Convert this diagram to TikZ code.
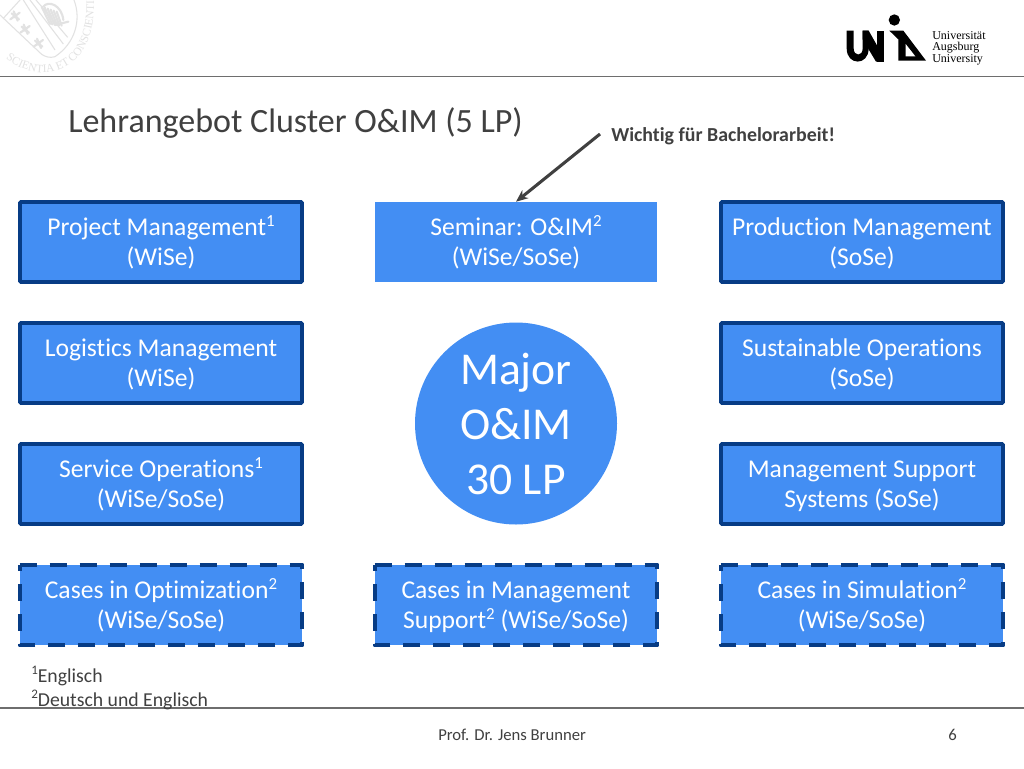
\documentclass[tikz,border=0pt]{standalone}
\usepackage{fontspec}
\setmainfont[RawFeature={-liga;-clig}]{Carlito}
\newfontfamily\logofont{Liberation Serif}
\usetikzlibrary{arrows.meta,decorations.text}
\definecolor{boxblue}{HTML}{438EF3}
\definecolor{boxline}{HTML}{073C85}
\definecolor{txt}{HTML}{404040}
\definecolor{rulec}{HTML}{6E6E6E}
\definecolor{seal}{HTML}{E2E2E2}
\newcommand{\tl}{\rule{0pt}{18.2pt}}
\newcommand{\bl}{\rule[-5.5pt]{0pt}{5.5pt}}
\newcommand{\supr}[1]{\raisebox{0.36em}{\fontsize{0.66em}{0.7em}\selectfont #1}}
\tikzset{
  x=0.75pt,y=-0.75pt,
  basebox/.style={fill=boxblue,text=white,align=center,font=\fontsize{19.2pt}{22.5pt}\selectfont,inner sep=0pt,minimum width=211.5pt,minimum height=60pt},
  solidbox/.style={basebox,draw=boxline,line width=2.8pt,rounded corners=0.8pt},
  dashbox/.style={basebox},
  dashline/.style={draw=boxline,line width=3.3pt,dash pattern=on 12.8pt off 9.7pt,line join=round},
  plainbox/.style={basebox},
  rulel/.style={draw=rulec,line width=1pt},
  lbl/.style={text=txt,inner sep=0pt,anchor=base west},
  sealline/.style={draw=seal,line width=0.8pt},
  sealhatch/.style={draw=seal,line width=1.6pt,line cap=round},
}
\begin{document}
\begin{tikzpicture}
\useasboundingbox (0,0) rectangle (1024,768);
\fill[white] (0,0) rectangle (1024,768);
% seal (coordinates in thirds of a pixel)
\begin{scope}[x=0.25pt,y=-0.25pt]
\clip (0,0) rectangle (300,228);
\draw[sealline] (222,0) .. controls (245,60) and (225,130) .. (165,170) .. controls (150,175) and (135,170) .. (125,163) -- (0,45);
\draw[sealline] (70,0) -- (165,150);
\draw[sealline] (90,0) -- (190,132);
\draw[sealline] (108,0) -- (203,112);
\draw[sealline] (10,55) -- (60,0);
\foreach \cx/\cy in {45/48,75/88,115/130}{
  \draw[sealhatch] (\cx-14,\cy+10) -- (\cx+14,\cy-10);
  \draw[sealhatch] (\cx-10,\cy-8) -- (\cx+12,\cy+10);
  \draw[sealhatch] (\cx-4,\cy-14) -- (\cx+8,\cy+14);
  \fill[seal] (\cx,\cy) circle (7);
}
\foreach \k in {0,1,2,3,4,5}{
  \draw[sealhatch] (125+9*\k,20+3*\k) -- (150+7*\k,72+\k);
}
\draw[sealhatch] (130,20) .. controls (145,0) and (185,15) .. (190,60);
\draw[sealhatch] (165,75) -- (205,65);
\path[decorate,decoration={text along path,text align={left indent=6pt},text={|\logofont\fontsize{8.6pt}{9pt}\selectfont\color{seal}|SCIENTIA ET CONSCIENTIA}}]
  (0,160) .. controls (90,255) and (285,250) .. (282,5);
\end{scope}
% logo (coordinates in thirds of a pixel from its corner)
\begin{scope}[shift={(840,10)},x=0.25pt,y=-0.25pt]
\fill (20,62) -- (41,62) -- (41,115) .. controls (41,140) and (68,140) .. (68,115) -- (68,62) -- (86,62) -- (86,115) .. controls (86,168) and (20,168) .. (20,115) -- cycle;
\fill (68,62) -- (86,62) -- (112,108) -- (112,155) -- (108,155) -- (68,88) -- cycle;
\fill (112,62) -- (131,62) -- (131,155) -- (112,155) -- cycle;
\fill (163,30) circle (17);
\fill (148,62) -- (190,62) -- (258,152) -- (175,152) -- (175,88) -- cycle;
\fill[white] (197,102) -- (226,139) -- (197,139) -- cycle;
\end{scope}
\node[lbl,text=black] (uni1) at (932,39) {\logofont\fontsize{9pt}{10pt}\selectfont Universität};
\node[lbl,text=black] (uni2) at (932,50.5) {\logofont\fontsize{9pt}{10pt}\selectfont Augsburg};
\node[lbl,text=black] (uni3) at (932,62) {\logofont\fontsize{9pt}{10pt}\selectfont University};
% rules
\draw[rulel] (0,76.5) -- (1024,76.5);
\draw[rulel] (0,708) -- (1024,708);
% title
\node[lbl] (title) at (68,132) {\fontsize{25.5pt}{29pt}\selectfont Lehrangebot Cluster O\&IM (5 LP)};
\node[lbl] (note) at (611,141) {\fontsize{14.9pt}{17pt}\selectfont\bfseries Wichtig für Bachelorarbeit!};
% boxes
\node[solidbox] (pm) at (161,242) {\tl Project Management\supr{1}\\(WiSe)\bl};
\node[plainbox] (sem) at (516,242) {\tl Seminar: O\&IM\supr{2}\\(WiSe/SoSe)\bl};
\node[solidbox] (prod) at (862,242) {\tl Production Management\\(SoSe)\bl};
\node[solidbox] (log) at (161,363) {\tl Logistics Management\\(WiSe)\bl};
\node[solidbox] (sus) at (862,363) {\tl Sustainable Operations\\(SoSe)\bl};
\node[solidbox] (serv) at (161,484) {\tl Service Operations\supr{1}\\(WiSe/SoSe)\bl};
\node[solidbox] (mss) at (862,484) {\tl Management Support\\Systems (SoSe)\bl};
\node[dashbox] (opt) at (161,605) {\tl Cases in Optimization\supr{2}\\(WiSe/SoSe)\bl};
\node[dashbox] (cms) at (516,605) {\tl Cases in Management\\Support\supr{2} (WiSe/SoSe)\bl};
\node[dashbox] (sim) at (862,605) {\tl Cases in Simulation\supr{2}\\(WiSe/SoSe)\bl};
\foreach \b in {opt,cms,sim}{
  \draw[dashline] (\b.north west) -- (\b.north east) -- (\b.south east) -- (\b.south west) -- cycle;
}
% circle
\node[circle,fill=boxblue,text=white,align=center,inner sep=0pt,minimum size=151.5pt,font=\fontsize{34.2pt}{41.2pt}\selectfont] (major) at (516,423.5) {\rule{0pt}{33pt}Major\\O\&IM\\30 LP\rule[-9pt]{0pt}{9pt}};
% arrow
\coordinate (arrstart) at (600,134);
\draw[-{Stealth[length=9pt,width=7.5pt]},draw=txt,fill=txt,line width=2.3pt] (arrstart) -- (sem.north);
% footnotes
\node[lbl] (fn1) at (31,682) {\fontsize{14.8pt}{17pt}\selectfont\supr{1}Englisch};
\node[lbl] (fn2) at (31,706) {\fontsize{14.8pt}{17pt}\selectfont\supr{2}Deutsch und Englisch};
% footer
\node[lbl] (prof) at (438,740) {\fontsize{12.5pt}{14pt}\selectfont Prof. Dr. Jens Brunner};
\node[lbl] (page) at (948,740) {\fontsize{12.5pt}{14pt}\selectfont 6};
\end{tikzpicture}
\end{document}
